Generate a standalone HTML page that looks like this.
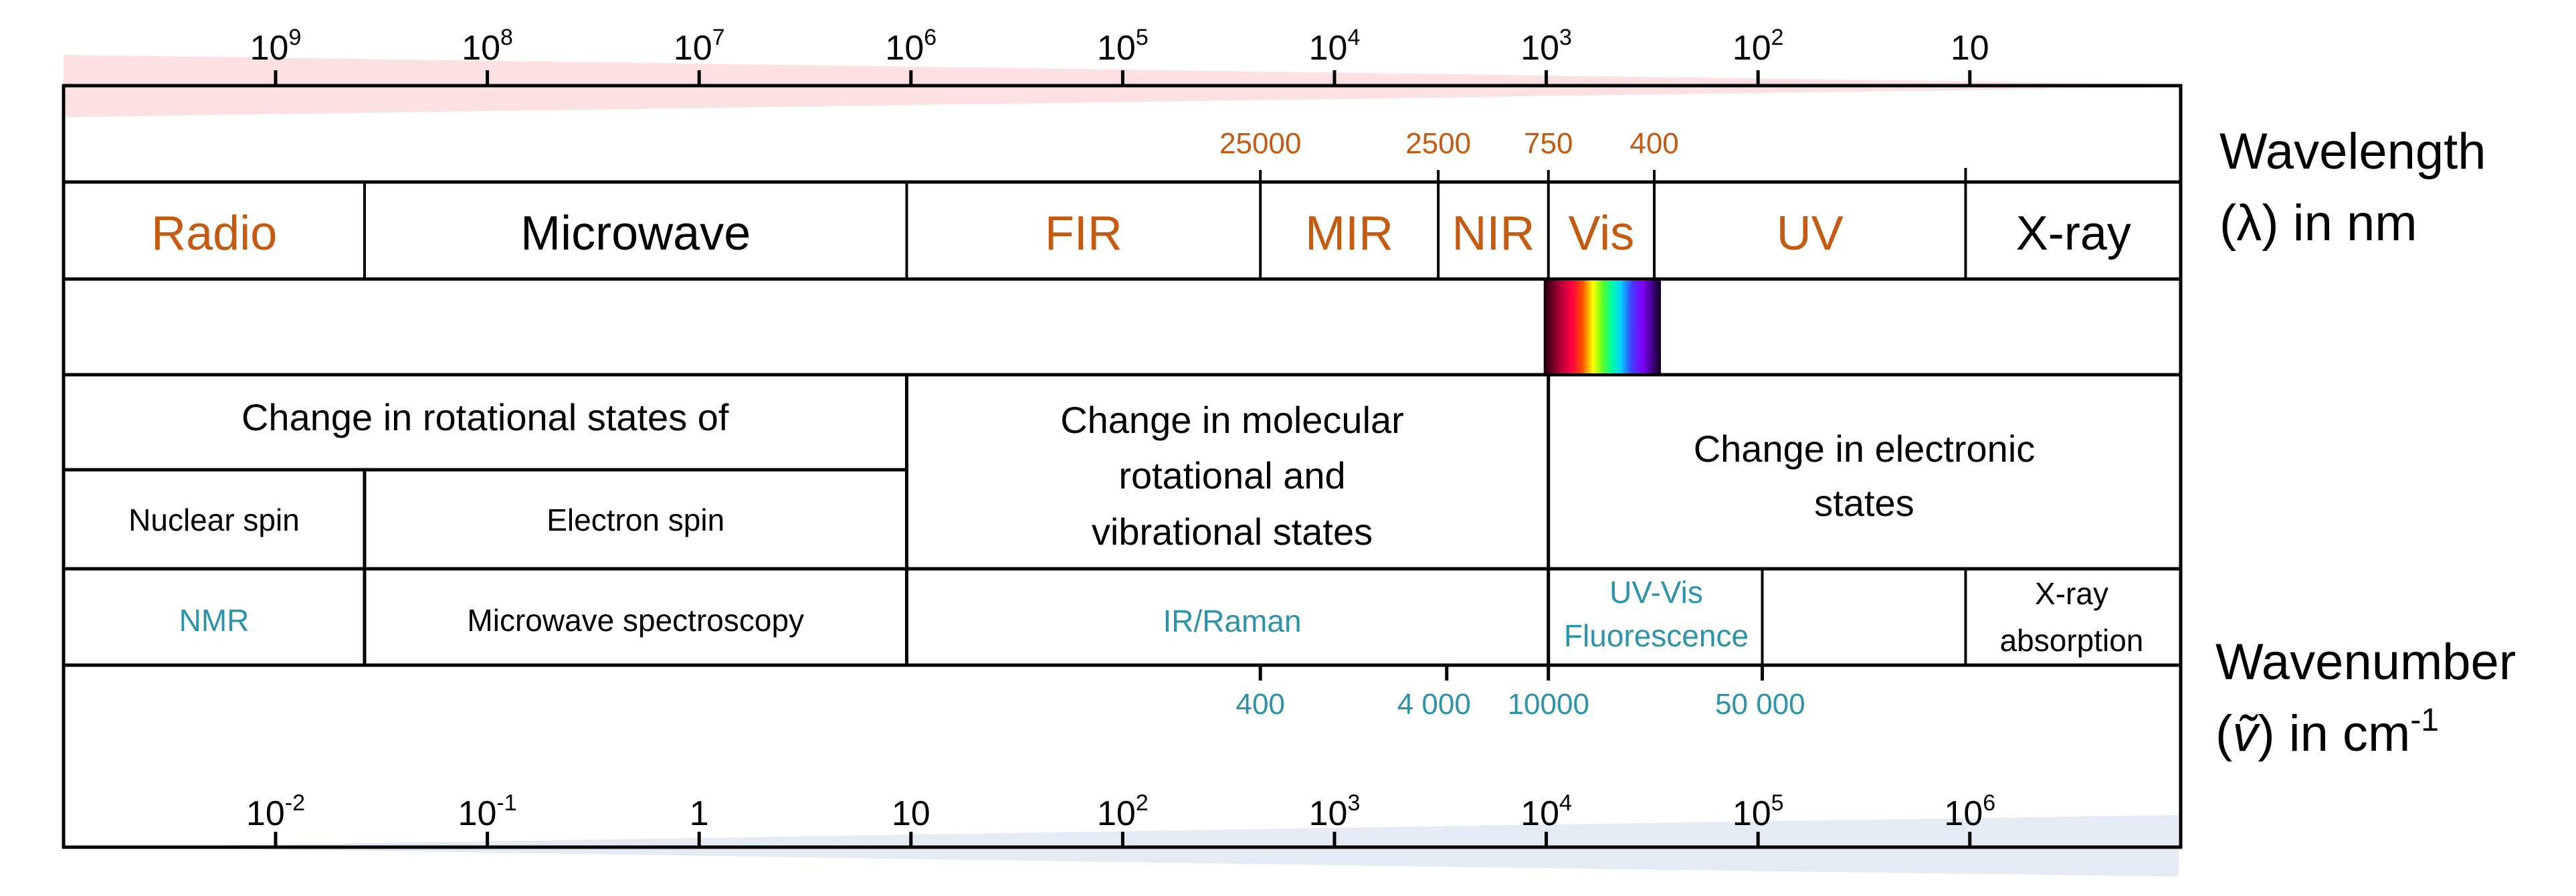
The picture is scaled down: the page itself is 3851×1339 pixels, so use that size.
<!DOCTYPE html>
<html><head><meta charset="utf-8">
<style>
html,body{margin:0;padding:0;background:#fff;}
svg{display:block;}
text{font-family:"Liberation Sans",sans-serif;}
</style></head>
<body>
<svg id="chart" width="3851" height="1339" viewBox="0 0 3851 1339" xmlns="http://www.w3.org/2000/svg">
<defs>
<linearGradient id="spec" x1="0" x2="1" y1="0" y2="0">
<stop offset="0" stop-color="#1a0008"/>
<stop offset="0.14" stop-color="#b0003a"/>
<stop offset="0.24" stop-color="#ff0040"/>
<stop offset="0.33" stop-color="#ff5000"/>
<stop offset="0.42" stop-color="#ffff00"/>
<stop offset="0.5" stop-color="#60ff20"/>
<stop offset="0.58" stop-color="#00ffa0"/>
<stop offset="0.66" stop-color="#00d0ff"/>
<stop offset="0.75" stop-color="#4040ff"/>
<stop offset="0.84" stop-color="#8000ff"/>
<stop offset="1" stop-color="#100020"/>
</linearGradient>
</defs>
<polygon points="95,82 3262,126 3262,130 95,175" fill="#FDE0E1"/>
<polygon points="180,1266 2200,1234 3257,1218 3257,1310 2200,1296" fill="#E4EBF5"/>
<g id="grid" stroke="#000" stroke-width="5" fill="none"></g>
<g id="labels"></g>
</svg>
<script>
// ---- data ----
const topExponents = [9, 8, 7, 6, 5, 4, 3, 2, 1];
const bottomExponents = [-2, -1, 0, 1, 2, 3, 4, 5, 6];
// band boundaries as log10(wavelength / nm)
const bandNames = ["Radio", "Microwave", "FIR", "MIR", "NIR", "Vis", "UV", "X-ray"];
const bandStarts = [10.0, 8.58, 6.02, 4.35, 3.51, 2.99, 2.49, 1.02];
const bandEnds = [8.58, 6.02, 4.35, 3.51, 2.99, 2.49, 1.02, 0.0];
const bandOrange = [true, false, true, true, true, true, true, false];
const wlMarkLabels = ["25000", "2500", "750", "400"];
const wlMarkPos = [4.35, 3.51, 2.99, 2.49];
const wnMarkLabels = ["400", "4 000", "10000", "50 000"];
const wnMarkPos = [4.35, 3.47, 2.99, 1.98];
const wnMarkLabelPos = [4.35, 3.53, 2.99, 1.99];

const svg = document.getElementById('chart');
const grid = document.getElementById('grid');
const labels = document.getElementById('labels');
const NS = 'http://www.w3.org/2000/svg';
const X0 = 95, X1 = 3260;
function x(l) { return 412 + (9 - l) * 316.6; }
function xw(e) { return 412 + (e + 2) * 316.6; }
const ORANGE = '#C55A11', TEAL = '#2B93AA';

function line(x1, y1, x2, y2, w, name) {
  const l = document.createElementNS(NS, 'line');
  l.setAttribute('x1', x1); l.setAttribute('y1', y1);
  l.setAttribute('x2', x2); l.setAttribute('y2', y2);
  if (w) l.setAttribute('stroke-width', w);
  
  
  grid.appendChild(l);
  return l;
}
function txt(s, tx, ty, size, color, name, anchor) {
  const t = document.createElementNS(NS, 'text');
  t.setAttribute('x', tx); t.setAttribute('y', ty);
  t.setAttribute('font-size', size);
  t.setAttribute('fill', color || '#000');
  t.setAttribute('text-anchor', anchor || 'middle');
  t.textContent = s;
  
  
  labels.appendChild(t);
  return t;
}
function pow(e, tx, ty, name) {
  const t = document.createElementNS(NS, 'text');
  t.setAttribute('x', tx); t.setAttribute('y', ty);
  t.setAttribute('font-size', 52);
  t.setAttribute('text-anchor', 'middle');
  
  
  if (e === 0) { t.textContent = '1'; }
  else if (e === 1) { t.textContent = '10'; }
  else {
    t.textContent = '10';
    const s = document.createElementNS(NS, 'tspan');
    s.setAttribute('font-size', 34);
    s.setAttribute('dy', -22);
    s.textContent = String(e);
    t.appendChild(s);
  }
  labels.appendChild(t);
}

// outer frame
const frame = document.createElementNS(NS, 'rect');
frame.setAttribute('x', X0); frame.setAttribute('y', 128);
frame.setAttribute('width', X1 - X0); frame.setAttribute('height', 1266 - 128);


grid.appendChild(frame);

// horizontal rows
line(X0, 272, X1, 272, 5, 'row-line-bands-top');
line(X0, 417, X1, 417, 5, 'row-line-bands-bottom');
line(X0, 560, X1, 560, 5, 'row-line-transitions-top');
line(X0, 702, x(6.02), 702, 5, 'row-line-spin-top');
line(X0, 850, X1, 850, 5, 'row-line-techniques-top');
line(X0, 994, X1, 994, 5, 'row-line-techniques-bottom');

// top ticks
topExponents.forEach((e, i) => {
  line(x(e), 105, x(e), 128, 5, 'top-tick-' + e);
  pow(e, x(e), 89, 'top-tick-label-' + e);
});
// bottom ticks
bottomExponents.forEach((e, i) => {
  line(xw(e), 1243, xw(e), 1266, 5, 'bottom-tick-' + e);
  pow(e, xw(e), 1233, 'bottom-tick-label-' + e);
});

// bands
bandNames.forEach((n, i) => {
  const a = x(bandStarts[i]), b = x(bandEnds[i]);
  if (i > 0) line(a, 272, a, 417, 4, 'band-divider-' + n.toLowerCase());
  txt(n, (a + b) / 2, 373, 72, bandOrange[i] ? ORANGE : '#000', 'band-label-' + n.toLowerCase());
});
// wavelength marks
wlMarkLabels.forEach((s, i) => {
  line(x(wlMarkPos[i]), 254, x(wlMarkPos[i]), 272, 4, 'wavelength-mark-' + s);
  txt(s, x(wlMarkPos[i]), 229, 44, ORANGE, 'wavelength-mark-label-' + s);
});
line(x(1.02), 251, x(1.02), 272, 4, 'wavelength-mark-xray');

// spectrum
const sp = document.createElementNS(NS, 'rect');
sp.setAttribute('x', x(2.99) - 7); sp.setAttribute('y', 419);
sp.setAttribute('width', x(2.49) - x(2.99) + 17); sp.setAttribute('height', 139);
sp.setAttribute('fill', 'url(#spec)');


svg.insertBefore(sp, labels);

// transitions row
line(x(6.02), 560, x(6.02), 994, 5, 'divider-rot-mol');
line(x(2.99), 560, x(2.99), 994, 5, 'divider-mol-elec');
line(x(8.58), 702, x(8.58), 994, 5, 'divider-nuclear-electron');
txt('Change in rotational states of', (X0 + x(6.02)) / 2, 643, 56, '#000', 'rotational-states-label');
txt('Nuclear spin', (X0 + x(8.58)) / 2, 793, 46, '#000', 'nuclear-spin-label');
txt('Electron spin', (x(8.58) + x(6.02)) / 2, 793, 46, '#000', 'electron-spin-label');
txt('Change in molecular', 1842, 647, 56, '#000', 'molecular-label-line1');
txt('rotational and', 1842, 730, 56, '#000', 'molecular-label-line2');
txt('vibrational states', 1842, 814, 56, '#000', 'molecular-label-line3');
txt('Change in electronic', 2787, 690, 56, '#000', 'electronic-label-line1');
txt('states', 2787, 771, 56, '#000', 'electronic-label-line2');

// techniques row
line(x(1.98), 850, x(1.98), 1014, 4, 'divider-uvvis');
line(x(1.02), 850, x(1.02), 994, 4, 'divider-xray-abs');
txt('NMR', (X0 + x(8.58)) / 2, 943, 46, TEAL, 'nmr-label');
txt('Microwave spectroscopy', (x(8.58) + x(6.02)) / 2, 943, 46, '#000', 'microwave-spectroscopy-label');
txt('IR/Raman', 1842, 944, 46, TEAL, 'ir-raman-label');
txt('UV-Vis', 2476, 901, 46, TEAL, 'uvvis-label-line1');
txt('Fluorescence', 2476, 966, 46, TEAL, 'uvvis-label-line2');
txt('X-ray', 3097, 903, 46, '#000', 'xray-absorption-line1');
txt('absorption', 3097, 973, 46, '#000', 'xray-absorption-line2');

// wavenumber marks
wnMarkLabels.forEach((s, i) => {
  line(x(wnMarkPos[i]), 994, x(wnMarkPos[i]), 1017, 5, 'wavenumber-mark-' + s.replace(' ', ''));
  txt(s, x(wnMarkLabelPos[i]), 1067, 44, TEAL, 'wavenumber-mark-label-' + s.replace(' ', ''));
});

// axis titles
txt('Wavelength', 3318, 252, 76, '#000', 'wavelength-title', 'start');
txt('(\u03BB) in nm', 3318, 359, 76, '#000', 'wavelength-unit', 'start');
txt('Wavenumber', 3312, 1015, 76, '#000', 'wavenumber-title', 'start');
const wu = txt('(', 3312, 1122, 76, '#000', 'wavenumber-unit', 'start');
const nu = document.createElementNS(NS, 'tspan');
nu.setAttribute('font-style', 'italic');
nu.textContent = '\u1E7D';
wu.appendChild(nu);
const rest = document.createElementNS(NS, 'tspan');
rest.textContent = ') in cm';
wu.appendChild(rest);
const sup = document.createElementNS(NS, 'tspan');
sup.setAttribute('font-size', 48); sup.setAttribute('dy', -30);
sup.textContent = '-1';
wu.appendChild(sup);
</script>
</body></html>
